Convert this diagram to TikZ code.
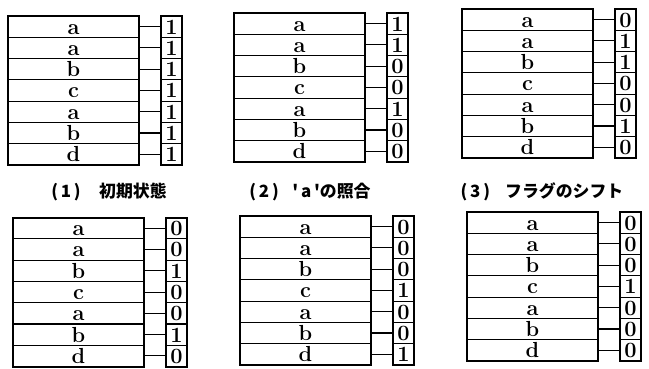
\documentclass[tikz,border=0pt]{standalone}
\usepackage{fontspec}
\newfontfamily\jpfont{Noto Sans CJK JP}[Ligatures=TeXOff]
\usetikzlibrary{positioning}

\begin{document}
\begin{tikzpicture}[
  cell/.style={draw, line width=0.8pt, minimum width=3.275cm, minimum height=5.32mm,
               inner sep=0pt, outer sep=0pt, text height=10.5pt, text depth=0pt,
               font=\fontsize{15.5}{15.5}\selectfont\bfseries},
  flag/.style={draw, line width=0.8pt, minimum width=5.25mm, minimum height=5.32mm,
               inner sep=0pt, outer sep=0pt, text height=10.5pt, text depth=0pt,
               font=\fontsize{15.5}{15.5}\selectfont\bfseries},
  frame/.style={line width=1.4pt},
  link/.style={line width=0.8pt},
  caption/.style={font=\jpfont\bfseries\fontsize{12}{12}\selectfont},
]
\useasboundingbox (0,0) rectangle (16.225,-9.2);

%% ---- six states of the table: cells, flags and links ----
\foreach \p/\ox/\oy/\rows in {
    1/0.2/-0.4/{a/1,a/1,b/1,c/1,a/1,b/1,d/1},
    2/5.85/-0.325/{a/1,a/1,b/0,c/0,a/1,b/0,d/0},
    3/11.55/-0.225/{a/0,a/1,b/1,c/0,a/0,b/1,d/0},
    4/0.325/-5.44/{a/0,a/0,b/1,c/0,a/0,b/1,d/0},
    5/6.0/-5.4/{a/0,a/0,b/0,c/1,a/0,b/0,d/1},
    6/11.675/-5.3/{a/0,a/0,b/0,c/1,a/0,b/0,d/0}}{
  \foreach \lbl/\f [count=\i] in \rows {
    \node[cell] (c\p-\i) at ({\ox+1.6375},{\oy-(\i-0.5)*0.532}) {\lbl};
    \node[flag, right=5.5mm of c\p-\i] (f\p-\i) {\f};
    \draw[link] (c\p-\i.east) -- (f\p-\i.west);
  }
  \draw[frame] (c\p-1.north west) rectangle (c\p-7.south east);
  \draw[frame] (f\p-1.north west) rectangle (f\p-7.south east);
}

%% ---- captions under the top row ----
\node[caption] (cap1) at (2.725,-4.8) {(\,1\,)\hspace{1.1em}初期状態};
\node[caption] (cap2) at (7.75,-4.8) {(\,2\,)\hspace{0.8em}'\,a\,'の照合};
\node[caption] (cap3) at (13.55,-4.8) {(\,3\,)\hspace{0.9em}フラグのシフト};

\end{tikzpicture}
\end{document}
